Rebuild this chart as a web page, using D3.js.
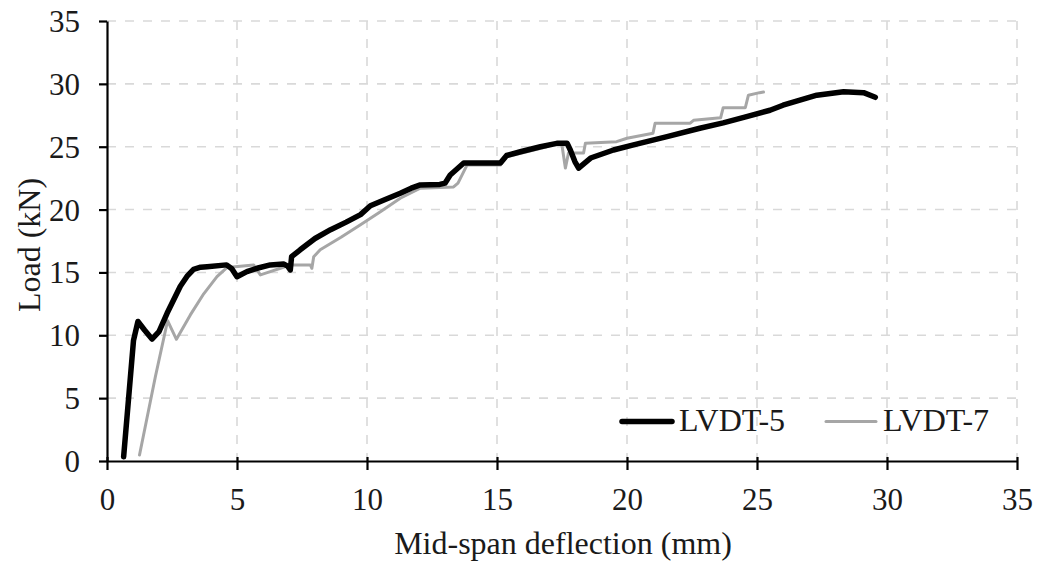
<!DOCTYPE html>
<html>
<head>
<meta charset="utf-8">
<script src="https://cdn.jsdelivr.net/npm/d3@7"></script>
<style>
  body { margin: 0; background: #fff; }
  svg { font-family: "Liberation Serif", "Times New Roman", serif; }
</style>
</head>
<body>
<svg id="chart" width="1041" height="569"></svg>
<script>
// LVDT-5 (black) deflection / load
const lvdt5X = [0.64, 1.02, 1.19, 1.45, 1.73, 2.0, 2.31, 2.82, 3.1, 3.33, 3.6, 3.85, 4.6, 4.8, 5.0, 5.38, 5.77, 6.28, 6.79, 6.95, 7.05, 7.1, 7.43, 8.0, 8.6, 9.2, 9.75, 10.13, 10.7, 11.28, 11.7, 12.05, 12.8, 13.0, 13.2, 13.72, 14.36, 15.13, 15.37, 15.9, 16.67, 17.3, 17.7, 17.82, 18.0, 18.14, 18.6, 19.48, 20.25, 21.54, 22.8, 23.7, 24.6, 25.5, 26.0, 27.3, 28.33, 29.1, 29.55];
const lvdt5Y = [0.34, 9.6, 11.1, 10.4, 9.7, 10.3, 11.75, 13.9, 14.75, 15.25, 15.42, 15.46, 15.6, 15.3, 14.66, 15.06, 15.33, 15.6, 15.67, 15.5, 15.2, 16.25, 16.8, 17.7, 18.4, 19.0, 19.6, 20.3, 20.8, 21.3, 21.7, 21.96, 22.0, 22.1, 22.75, 23.7, 23.7, 23.7, 24.3, 24.6, 25.0, 25.27, 25.27, 24.74, 23.8, 23.3, 24.1, 24.74, 25.14, 25.8, 26.47, 26.9, 27.4, 27.9, 28.3, 29.1, 29.38, 29.3, 28.93];

// LVDT-7 (grey) deflection / load
const lvdt7X = [1.25, 1.86, 2.33, 2.67, 3.2, 3.72, 4.23, 4.62, 5.13, 5.64, 5.9, 6.28, 6.67, 7.05, 7.82, 7.88, 7.95, 8.2, 9.0, 9.75, 10.5, 11.28, 12.05, 13.33, 13.5, 13.85, 15.13, 15.38, 16.92, 17.3, 17.5, 17.63, 17.75, 18.33, 18.4, 19.6, 20.0, 21.0, 21.08, 22.43, 22.56, 23.6, 23.7, 24.55, 24.67, 25.1, 25.25];
const lvdt7Y = [0.48, 6.7, 11.16, 9.68, 11.6, 13.3, 14.66, 15.4, 15.5, 15.6, 14.8, 15.06, 15.33, 15.6, 15.6, 15.33, 16.25, 16.8, 17.8, 18.8, 19.8, 20.9, 21.7, 21.8, 22.1, 23.55, 23.55, 24.2, 25.0, 25.3, 25.1, 23.3, 24.5, 24.5, 25.27, 25.4, 25.67, 26.07, 26.87, 26.87, 27.1, 27.3, 28.1, 28.1, 29.1, 29.3, 29.35];

const xTicks = [0, 5, 10, 15, 20, 25, 30, 35];
const yTicks = [0, 5, 10, 15, 20, 25, 30, 35];
const seriesNames = ["LVDT-5", "LVDT-7"];
const seriesColors = ["#000000", "#a6a6a6"];

const svg = d3.select("#chart");
const plotLeft = 107, plotRight = 1017, plotTop = 21, plotBottom = 461;

const x = d3.scaleLinear().domain([0, 35]).range([plotLeft, plotRight]);
const y = d3.scaleLinear().domain([0, 35]).range([plotBottom, plotTop]);

// grid lines
const grid = svg.append("g");
grid.selectAll(".hg").data(yTicks.filter(d => d > 0)).enter().append("line")
  .attr("x1", plotLeft).attr("x2", plotRight)
  .attr("y1", d => y(d)).attr("y2", d => y(d))
  .attr("stroke", "#d9d9d9").attr("stroke-width", 1.6).attr("stroke-dasharray", "9,9");
grid.selectAll(".vg").data(xTicks.filter(d => d > 0)).enter().append("line")
  .attr("x1", d => x(d)).attr("x2", d => x(d))
  .attr("y1", plotTop).attr("y2", plotBottom)
  .attr("stroke", "#d9d9d9").attr("stroke-width", 1.6).attr("stroke-dasharray", "9,9");

// axes
const xAxis = svg.append("g").attr("transform", `translate(0,${plotBottom})`)
  .call(d3.axisBottom(x).tickValues(xTicks).tickSize(9).tickSizeOuter(0));
xAxis.selectAll(".tick line").attr("y1", -4).attr("stroke-width", 2.2).attr("stroke", "#000");
xAxis.select(".domain").attr("stroke-width", 2.2).attr("stroke", "#000");
xAxis.selectAll(".tick text").attr("font-size", 31).attr("font-family", "Liberation Serif")
  .attr("y", 49).attr("dy", 0).attr("fill", "#1a1a1a");

const yAxis = svg.append("g").attr("transform", `translate(${plotLeft},0)`)
  .call(d3.axisLeft(y).tickValues(yTicks).tickSize(8).tickSizeOuter(0));
yAxis.selectAll(".tick line").attr("stroke-width", 2.2).attr("stroke", "#000");
yAxis.select(".domain").attr("stroke-width", 2.2).attr("stroke", "#000");
yAxis.selectAll(".tick text").attr("font-size", 31).attr("font-family", "Liberation Serif")
  .attr("x", -27).attr("dy", "0.34em").attr("fill", "#1a1a1a");

// axis titles
svg.append("text").attr("x", 563).attr("y", 554)
  .attr("text-anchor", "middle").attr("font-size", 32).attr("fill", "#1a1a1a")
  .text("Mid-span deflection (mm)");
svg.append("text").attr("transform", `translate(40,245) rotate(-90)`)
  .attr("text-anchor", "middle").attr("font-size", 32).attr("fill", "#1a1a1a")
  .text("Load (kN)");

// lines
const line = d3.line().x(d => x(d[0])).y(d => y(d[1])).curve(d3.curveLinear);
svg.append("path").datum(d3.zip(lvdt7X, lvdt7Y))
  .attr("d", line).attr("fill", "none").attr("stroke", seriesColors[1])
  .attr("stroke-width", 3).attr("stroke-linejoin", "round").attr("stroke-linecap", "round");
svg.append("path").datum(d3.zip(lvdt5X, lvdt5Y))
  .attr("d", line).attr("fill", "none").attr("stroke", seriesColors[0])
  .attr("stroke-width", 5.5).attr("stroke-linejoin", "round").attr("stroke-linecap", "round");

// legend
const legendPos = [[622, 679], [826, 883]];
const legendW = [5.5, 3];
seriesNames.forEach((name, i) => {
  svg.append("line").attr("x1", legendPos[i][0]).attr("x2", legendPos[i][0] + 50)
    .attr("y1", 421.5).attr("y2", 421.5)
    .attr("stroke", seriesColors[i]).attr("stroke-width", legendW[i]).attr("stroke-linecap", "round");
  svg.append("text").attr("x", legendPos[i][1]).attr("y", 431)
    .attr("font-size", 32).attr("fill", "#1a1a1a").text(name);
});
</script>
</body>
</html>
